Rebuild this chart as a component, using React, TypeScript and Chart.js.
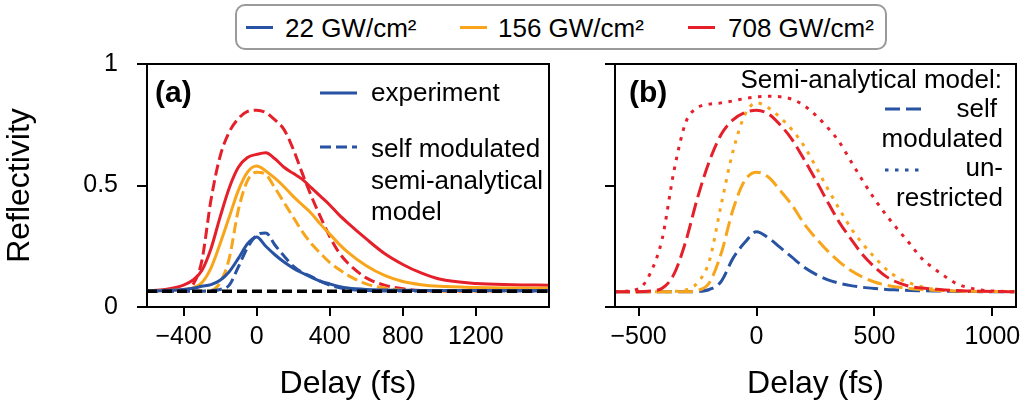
import React, { useEffect, useRef } from 'react';
import { Chart, registerables } from 'chart.js';

Chart.register(...registerables);

const FONT = "'Liberation Sans', Arial, Helvetica, sans-serif";
const BLUE = '#2853a3';
const ORANGE = '#f8a51b';
const RED = '#e5202b';

// ---------- panel (a) ----------
const delaysA = [-600, -500, -400, -350, -300, -250, -200, -150, -100, -50, 0, 50, 100, 150, 200, 250, 300, 350, 400, 450, 500, 600, 700, 800, 900, 1000, 1200, 1400, 1600];
const exp22A = [0.066, 0.068, 0.072, 0.077, 0.085, 0.092, 0.11, 0.145, 0.2, 0.26, 0.288, 0.25, 0.215, 0.185, 0.16, 0.14, 0.122, 0.106, 0.095, 0.085, 0.078, 0.072, 0.07, 0.069, 0.068, 0.068, 0.068, 0.068, 0.068];
const exp156A = [0.066, 0.068, 0.072, 0.078, 0.1, 0.16, 0.26, 0.37, 0.48, 0.555, 0.58, 0.56, 0.53, 0.495, 0.455, 0.42, 0.385, 0.34, 0.3, 0.26, 0.225, 0.17, 0.13, 0.105, 0.092, 0.085, 0.08, 0.078, 0.077];
const exp708A = [0.066, 0.072, 0.09, 0.11, 0.15, 0.24, 0.37, 0.49, 0.575, 0.615, 0.628, 0.635, 0.61, 0.575, 0.55, 0.525, 0.49, 0.455, 0.42, 0.38, 0.345, 0.28, 0.22, 0.175, 0.14, 0.115, 0.097, 0.092, 0.09];
const model22A = [0.065, 0.065, 0.065, 0.065, 0.065, 0.067, 0.072, 0.09, 0.165, 0.245, 0.295, 0.305, 0.255, 0.21, 0.168, 0.142, 0.125, 0.105, 0.09, 0.08, 0.073, 0.068, 0.066, 0.066, 0.066, 0.066, 0.066, 0.066, 0.066];
const model156A = [0.065, 0.065, 0.065, 0.065, 0.065, 0.068, 0.1, 0.2, 0.4, 0.52, 0.555, 0.545, 0.49, 0.43, 0.37, 0.31, 0.26, 0.22, 0.183, 0.155, 0.13, 0.095, 0.078, 0.07, 0.067, 0.066, 0.066, 0.066, 0.066];
const model708A = [0.065, 0.065, 0.07, 0.09, 0.19, 0.44, 0.62, 0.72, 0.775, 0.805, 0.81, 0.8, 0.77, 0.73, 0.65, 0.55, 0.455, 0.37, 0.29, 0.225, 0.18, 0.12, 0.09, 0.075, 0.068, 0.066, 0.065, 0.065, 0.065];
const baselineX = [-600, 1600];
const baselineY = [0.065, 0.065];
const xTicksA = [-400, 0, 400, 800, 1200];

// ---------- panel (b) ----------
const delaysB = [-600, -500, -450, -400, -350, -300, -250, -200, -150, -100, -50, 0, 50, 100, 150, 200, 250, 300, 350, 400, 450, 500, 550, 600, 650, 700, 750, 800, 850, 900, 950, 1000, 1100];
const self22B = [0.063, 0.063, 0.063, 0.063, 0.063, 0.063, 0.064, 0.072, 0.105, 0.2, 0.265, 0.31, 0.285, 0.245, 0.205, 0.165, 0.135, 0.113, 0.098, 0.088, 0.081, 0.076, 0.072, 0.07, 0.068, 0.067, 0.066, 0.065, 0.064, 0.064, 0.063, 0.063, 0.063];
const self156B = [0.063, 0.063, 0.063, 0.063, 0.063, 0.063, 0.068, 0.1, 0.22, 0.4, 0.52, 0.555, 0.535, 0.48, 0.42, 0.345, 0.285, 0.232, 0.187, 0.15, 0.123, 0.103, 0.09, 0.082, 0.076, 0.072, 0.069, 0.067, 0.066, 0.065, 0.064, 0.064, 0.063];
const self708B = [0.063, 0.063, 0.066, 0.077, 0.135, 0.27, 0.45, 0.6, 0.71, 0.77, 0.8, 0.81, 0.795, 0.75, 0.69, 0.61, 0.525, 0.435, 0.35, 0.28, 0.215, 0.165, 0.125, 0.1, 0.085, 0.078, 0.074, 0.07, 0.068, 0.066, 0.065, 0.064, 0.063];
const unr156B = [0.063, 0.063, 0.063, 0.063, 0.064, 0.07, 0.1, 0.19, 0.42, 0.64, 0.79, 0.84, 0.82, 0.78, 0.73, 0.665, 0.58, 0.49, 0.405, 0.325, 0.26, 0.205, 0.155, 0.12, 0.098, 0.083, 0.074, 0.069, 0.066, 0.065, 0.064, 0.064, 0.063];
const unr708B = [0.063, 0.075, 0.14, 0.28, 0.56, 0.76, 0.82, 0.835, 0.84, 0.848, 0.858, 0.865, 0.867, 0.865, 0.855, 0.83, 0.79, 0.74, 0.68, 0.6, 0.52, 0.445, 0.378, 0.318, 0.26, 0.2, 0.16, 0.125, 0.095, 0.08, 0.07, 0.066, 0.063];
const xTicksB = [-500, 0, 500, 1000];

const yTicks = [0, 0.5, 1];

const legendLabels = ['22 GW/cm\u00B2', '156 GW/cm\u00B2', '708 GW/cm\u00B2'];
const legendColors = [BLUE, ORANGE, RED];

const pts = (xs: number[], ys: number[]) => xs.map((x, i) => ({ x, y: ys[i] }));
const fmtX = (v: number) => (v < 0 ? '\u2212' + Math.abs(v) : String(v));

function line(data: { x: number; y: number }[], color: string, dash: number[], order: number, width = 3) {
  return {
    data,
    borderColor: color,
    backgroundColor: color,
    borderWidth: width,
    borderDash: dash,
    borderCapStyle: 'butt',
    borderJoinStyle: 'round',
    pointRadius: 0,
    pointHoverRadius: 0,
    cubicInterpolationMode: 'monotone',
    fill: false,
    order,
  };
}

const framePlugin = {
  id: 'frame',
  afterDatasetsDraw(chart: any) {
    const { ctx, chartArea: a } = chart;
    ctx.save();
    ctx.strokeStyle = '#000';
    ctx.lineWidth = 2;
    ctx.strokeRect(a.left, a.top, a.right - a.left, a.bottom - a.top);
    ctx.restore();
  },
};

function sample(ctx: CanvasRenderingContext2D, x1: number, x2: number, y: number, color: string, dash: number[]) {
  ctx.save();
  ctx.strokeStyle = color;
  ctx.lineWidth = 3;
  ctx.setLineDash(dash);
  ctx.lineCap = 'butt';
  ctx.beginPath();
  ctx.moveTo(x1, y);
  ctx.lineTo(x2, y);
  ctx.stroke();
  ctx.restore();
}

const notesA = {
  id: 'notesA',
  afterDraw(chart: any) {
    const ctx = chart.ctx as CanvasRenderingContext2D;
    ctx.save();
    ctx.fillStyle = '#000';
    ctx.textBaseline = 'alphabetic';
    ctx.textAlign = 'left';
    ctx.font = `bold 30px ${FONT}`;
    ctx.fillText('(a)', 155, 102);
    ctx.font = `26px ${FONT}`;
    sample(ctx, 320, 357, 93, BLUE, []);
    ctx.fillText('experiment', 371, 101);
    sample(ctx, 320, 357, 147, BLUE, [11, 5]);
    ctx.fillText('self modulated', 371, 157);
    ctx.fillText('semi-analytical', 371, 188.5);
    ctx.fillText('model', 371, 220);
    ctx.restore();
  },
};

const OFFB = 580;
const notesB = {
  id: 'notesB',
  afterDraw(chart: any) {
    const ctx = chart.ctx as CanvasRenderingContext2D;
    ctx.save();
    ctx.fillStyle = '#000';
    ctx.textBaseline = 'alphabetic';
    ctx.textAlign = 'left';
    ctx.font = `bold 30px ${FONT}`;
    ctx.fillText('(b)', 629 - OFFB, 102);
    ctx.font = `26px ${FONT}`;
    ctx.textAlign = 'right';
    ctx.fillText('Semi-analytical model:', 1002 - OFFB, 88);
    ctx.fillText('self', 997 - OFFB, 117);
    ctx.fillText('modulated', 1003 - OFFB, 147);
    ctx.fillText('un-', 1003 - OFFB, 176);
    ctx.fillText('restricted', 1003 - OFFB, 206);
    sample(ctx, 885 - OFFB, 922 - OFFB, 109, BLUE, [15, 6]);
    sample(ctx, 885 - OFFB, 922 - OFFB, 170, BLUE, [3.5, 6.5]);
    ctx.restore();
  },
};

function makeOptions(xMin: number, xMax: number, xTicks: number[], yLabels: boolean, yWidth: number, rightPad: number, yTitle: string) {
  const tickFont = { family: FONT, size: 25 };
  const titleFont = { family: FONT, size: 32 };
  return {
    animation: false,
    responsive: false,
    maintainAspectRatio: false,
    events: [],
    layout: { padding: { top: 64, right: rightPad, left: 0, bottom: 0 } },
    plugins: { legend: { display: false }, tooltip: { enabled: false }, title: { display: false } },
    scales: {
      x: {
        type: 'linear',
        min: xMin,
        max: xMax,
        afterBuildTicks: (s: any) => {
          s.ticks = xTicks.map((v) => ({ value: v }));
        },
        afterFit: (s: any) => {
          s.height = 101;
        },
        ticks: {
          font: tickFont,
          color: '#000',
          padding: 6,
          maxRotation: 0,
          autoSkip: false,
          callback: (v: any) => fmtX(Number(v)),
        },
        grid: { drawOnChartArea: false, drawTicks: true, tickLength: 9, color: '#000', lineWidth: 2 },
        border: { display: false },
        title: { display: true, text: 'Delay (fs)', font: titleFont, color: '#000', padding: { top: 0, bottom: 5 } },
      },
      y: {
        type: 'linear',
        min: 0,
        max: 1,
        afterBuildTicks: (s: any) => {
          s.ticks = yTicks.map((v) => ({ value: v }));
        },
        afterFit: (s: any) => {
          s.width = yWidth;
        },
        ticks: {
          font: tickFont,
          color: '#000',
          padding: 19,
          callback: (v: any) => (yLabels ? String(v) : ''),
        },
        grid: { drawOnChartArea: false, drawTicks: true, tickLength: 10, color: '#000', lineWidth: 2 },
        border: { display: false },
        title: { display: yTitle !== '', text: yTitle, font: titleFont, color: '#000', padding: { top: 1, bottom: 0 } },
      },
    },
  };
}

export default function App() {
  const refA = useRef<HTMLCanvasElement>(null);
  const refB = useRef<HTMLCanvasElement>(null);

  useEffect(() => {
    const chartA = new Chart(refA.current as HTMLCanvasElement, {
      type: 'line',
      data: {
        datasets: [
          line(pts(baselineX, baselineY), '#000', [10, 5], 0, 3.5),
          line(pts(delaysA, exp22A), BLUE, [], 1),
          line(pts(delaysA, model22A), BLUE, [11, 5], 2),
          line(pts(delaysA, exp156A), ORANGE, [], 3),
          line(pts(delaysA, model156A), ORANGE, [11, 5], 4),
          line(pts(delaysA, exp708A), RED, [], 5),
          line(pts(delaysA, model708A), RED, [11, 5], 6),
        ] as any,
      },
      options: makeOptions(-600, 1600, xTicksA, true, 147, 31, 'Reflectivity') as any,
      plugins: [framePlugin, notesA],
    });
    const chartB = new Chart(refB.current as HTMLCanvasElement, {
      type: 'line',
      data: {
        datasets: [
          line(pts(delaysB, self708B), RED, [15, 6], 1),
          line(pts(delaysB, unr708B), RED, [3.5, 6.5], 2),
          line(pts(delaysB, self156B), ORANGE, [15, 6], 3),
          line(pts(delaysB, unr156B), ORANGE, [3.5, 6.5], 4),
          line(pts(delaysB, self22B), BLUE, [15, 6], 5),
        ] as any,
      },
      options: makeOptions(-600, 1100, xTicksB, false, 35, 11, '') as any,
      plugins: [framePlugin, notesB],
    });
    return () => {
      chartA.destroy();
      chartB.destroy();
    };
  }, []);

  const lineXs = [246, 460, 688];
  const textXs = [285, 498, 728];

  return (
    <div style={{ position: 'fixed', left: 0, top: 0, width: 1027, height: 408, background: '#fff', overflow: 'hidden' }}>
      <canvas ref={refA} width={580} height={408} style={{ position: 'absolute', left: 0, top: 0 }} />
      <canvas ref={refB} width={447} height={408} style={{ position: 'absolute', left: OFFB, top: 0 }} />
      <div
        style={{
          position: 'absolute',
          left: 235,
          top: 4,
          width: 652,
          height: 46,
          boxSizing: 'border-box',
          border: '2px solid #9a9a9a',
          borderRadius: 10,
          background: '#fff',
        }}
      />
      {legendLabels.map((lab, i) => (
        <React.Fragment key={lab}>
          <div style={{ position: 'absolute', left: lineXs[i], top: 26, width: 27, height: 3, background: legendColors[i] }} />
          <span
            style={{
              position: 'absolute',
              left: textXs[i],
              top: 15,
              fontFamily: FONT,
              fontSize: 26,
              lineHeight: '26px',
              color: '#000',
              whiteSpace: 'nowrap',
            }}
          >
            {lab}
          </span>
        </React.Fragment>
      ))}
    </div>
  );
}
